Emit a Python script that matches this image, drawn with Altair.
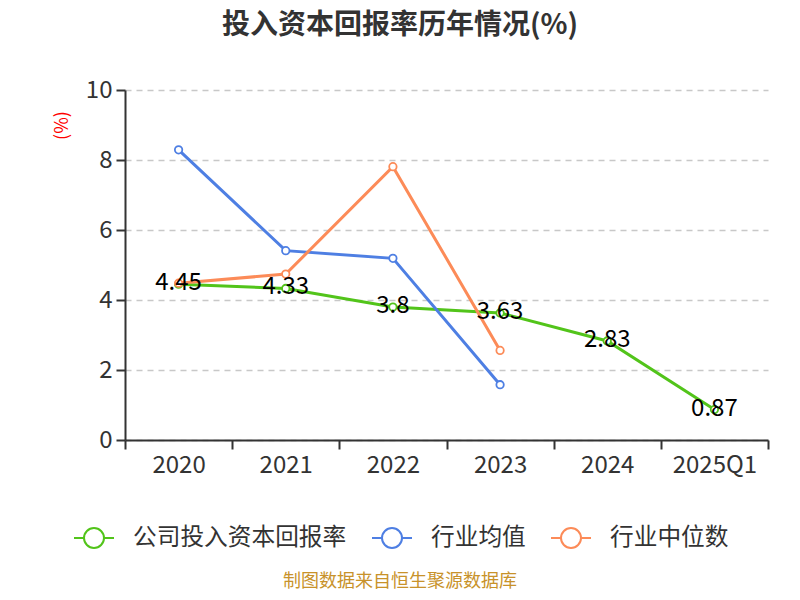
import altair as alt
import pandas as pd

categories = ["2020", "2021", "2022", "2023", "2024", "2025Q1"]
series_names = ["公司投入资本回报率", "行业均值", "行业中位数"]
company = [4.45, 4.33, 3.8, 3.63, 2.83, 0.87]
industry_avg = [8.29, 5.41, 5.19, 1.58, None, None]
industry_median = [4.48, 4.74, 7.81, 2.56, None, None]
colors = ["#52c41a", "#4e7fe3", "#fc8b58"]
title_text = "投入资本回报率历年情况(%)"
source_text = "制图数据来自恒生聚源数据库"

rows = []
for name, vals in zip(series_names, [company, industry_avg, industry_median]):
    for c, v in zip(categories, vals):
        if v is not None:
            rows.append({"year": c, "value": v, "series": name})
df = pd.DataFrame(rows)
df_company = df[df["series"] == series_names[0]]

FONT = "Noto Sans CJK SC"

x_enc = alt.X(
    "year:N", sort=categories, bandPosition=0.5,
    scale=alt.Scale(type="band", domain=categories, paddingInner=0, paddingOuter=0),
    axis=alt.Axis(title=None, tickBand="extent", labelFontSize=24, labelColor="#333",
                  labelFont=FONT, labelPadding=4, tickSize=9, tickColor="#333",
                  domainColor="#333", domainWidth=2, tickWidth=2, labelAngle=0, grid=False),
)
y_enc = alt.Y(
    "value:Q", scale=alt.Scale(domain=[0, 10], nice=False),
    axis=alt.Axis(values=[0, 2, 4, 6, 8, 10], title="(%)", titleColor="red",
                  titleFontSize=18, titleFont=FONT, titleFontWeight="normal",
                  titleX=-63, titleY=35, titleAlign="center", titleBaseline="middle",
                  labelFontSize=24, labelColor="#333", labelFont=FONT, labelPadding=4,
                  tickSize=9, tickColor="#333", tickWidth=2, domainColor="#333", domainWidth=2,
                  grid=True, gridDash=[6, 5], gridColor="#c8c8c8", gridWidth=1.5),
)
color_enc = alt.Color(
    "series:N",
    scale=alt.Scale(domain=series_names, range=colors),
    legend=alt.Legend(
        title=None, orient="none", direction="horizontal", legendX=-52, legendY=427,
        labelFontSize=23.7, labelColor="#333", labelFont=FONT, labelOffset=18, labelLimit=0,
        symbolType="M-1,0L-0.5,0M0.5,0L1,0M0.5,0A0.5,0.5,0,1,1,-0.5,0A0.5,0.5,0,1,1,0.5,0Z",
        symbolSize=1600, symbolStrokeWidth=2, symbolFillColor="white",
        columnPadding=21, symbolOpacity=1,
    ),
)

lines = alt.Chart(df).mark_line(strokeWidth=3).encode(x=x_enc, y=y_enc, color=color_enc)
points = alt.Chart(df).mark_point(shape="circle", filled=False, fill="white", size=55,
                                  strokeWidth=1.8, opacity=1).encode(
    x=x_enc, y=y_enc, stroke=alt.Stroke("series:N", scale=alt.Scale(domain=series_names, range=colors), legend=None))
labels = alt.Chart(df_company).mark_text(fontSize=24, color="#000", font=FONT,
                                         baseline="middle", align="center", dy=-1).encode(
    x=x_enc, y=y_enc, text=alt.Text("value:Q"))

title = alt.Chart(pd.DataFrame({"t": [title_text]})).mark_text(
    fontSize=28, fontWeight="bold", color="#333", font=FONT, align="center", baseline="middle"
).encode(x=alt.value(275), y=alt.value(-64), text="t:N")
source = alt.Chart(pd.DataFrame({"t": [source_text]})).mark_text(
    fontSize=18, color="#c8922a", font=FONT, align="center", baseline="middle"
).encode(x=alt.value(275), y=alt.value(492), text="t:N")

chart = alt.layer(lines, points, labels, title, source).properties(
    width=643, height=350,
    autosize=alt.AutoSizeParams(type="none"),
    padding={"left": 117, "top": 82, "right": 24, "bottom": 152},
).configure_view(stroke=None)

chart.save("out.html", embed_options={"renderer": "svg", "actions": False})
